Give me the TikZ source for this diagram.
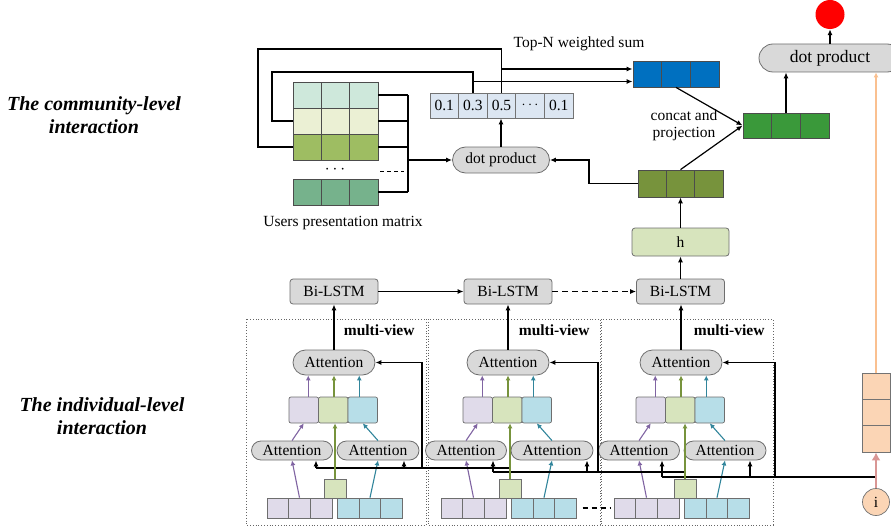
\documentclass[tikz,border=0pt]{standalone}
\usepackage{fontspec}
\setmainfont{Liberation Serif}
\usetikzlibrary{arrows.meta,shapes.misc,calc}
\definecolor{mrowA}{RGB}{206,232,219}
\definecolor{mrowB}{RGB}{235,240,212}
\definecolor{mrowC}{RGB}{158,189,98}
\definecolor{mrowD}{RGB}{118,178,140}
\definecolor{wfill}{RGB}{220,230,242}
\definecolor{vblue}{RGB}{0,112,192}
\definecolor{vgreen}{RGB}{58,153,58}
\definecolor{volive}{RGB}{119,147,60}
\definecolor{hgreen}{RGB}{215,228,189}
\definecolor{lav}{RGB}{224,219,234}
\definecolor{lblue}{RGB}{183,222,232}
\definecolor{orangef}{RGB}{251,213,181}
\definecolor{pinkc}{RGB}{217,150,148}
\definecolor{orangel}{RGB}{250,192,144}
\definecolor{purpc}{RGB}{128,100,162}
\definecolor{greenc}{RGB}{119,147,60}
\definecolor{tealc}{RGB}{49,133,155}
\definecolor{gfill}{RGB}{217,217,217}
\definecolor{gline}{RGB}{110,110,110}
\begin{document}
\begin{tikzpicture}[x=1pt,y=-1pt,
  txt/.style={font=\fontsize{15.5}{17}\selectfont},
  pill/.style={rounded rectangle, draw=gline, fill=gfill, inner sep=0pt, txt, line width=0.8pt},
  boxr/.style={rectangle, rounded corners=3pt, draw=gline, fill=gfill, inner sep=0pt, txt, line width=0.8pt},
  cell/.style={rectangle, draw=black!70, inner sep=0pt, line width=0.8pt},
  rcell/.style={rectangle, rounded corners=2pt, draw=gline, inner sep=0pt, line width=0.7pt, minimum width=29.5pt, minimum height=26pt},
  scell/.style={rectangle, draw=gline, inner sep=0pt, line width=0.7pt, minimum width=21.67pt, minimum height=20pt},
  ln/.style={line width=1.2pt},
  arr/.style={-{Latex[length=6pt,width=5pt]}, line width=1.2pt},
  parr/.style={-{Latex[length=5pt,width=5pt]}, line width=1.1pt, draw=purpc},
  garr/.style={-{Latex[length=5pt,width=5pt]}, line width=1.1pt, draw=greenc},
  tarr/.style={-{Latex[length=5pt,width=5pt]}, line width=1.1pt, draw=tealc},
  frame/.style={draw=black!60, line width=0.7pt, dash pattern=on 0.8pt off 2pt},
  lbl/.style={font={\fontsize{20}{23}\selectfont\bfseries\itshape}, align=center},
  mv/.style={font={\fontsize{15.5}{17}\selectfont\bfseries}, anchor=east}
]
\useasboundingbox (0,0) rectangle (891,532);

% ---------- left labels ----------
\node[lbl] (comm) at (94,115) {The community-level\\interaction};
\node[lbl] (indiv) at (102,416) {The individual-level\\interaction};

% ---------- users presentation matrix ----------
\foreach \r/\y/\c in {1/95/mrowA, 2/121/mrowB, 3/147/mrowC, 4/192/mrowD}
  \foreach \k/\x in {1/307.17, 2/335.5, 3/363.83}
    \node[cell, fill=\c, minimum width=28.33pt, minimum height=26pt] (m\r\k) at (\x,\y) {};
\node[font=\fontsize{17}{17}\selectfont] (mdots) at (335,170) {$\cdots$};
\coordinate (dsa) at (380,171);
\coordinate (dsb) at (404,171);
\draw[line width=1pt, dash pattern=on 4pt off 3pt] (dsa) -- (dsb);
\node[txt] (umat) at (343,223) {Users presentation matrix};

% ---------- community dot product and weights ----------
\node[pill, minimum width=97pt, minimum height=26pt] (dp1) at (501,160) {dot product};
\foreach \k/\x/\t in {1/444.3/0.1, 2/472.9/0.3, 3/501.5/0.5, 4/530.1/{$\cdots$}, 5/558.7/0.1}
  \node[cell, draw=black!55, fill=wfill, minimum width=28.6pt, minimum height=25pt, txt] (w\k) at (\x,105.5) {\t};

\coordinate (bus) at (408,160);
\foreach \r in {1,2,3,4}
  \draw[ln] (m\r3.east) -- (m\r3.east -| bus);
\draw[ln] (m13.east -| bus) -- (m43.east -| bus);
\draw[arr] (bus) -- (dp1.west);
\draw[arr] (dp1.north) -- (dp1.north |- w3.south);

% loops to the weights
\coordinate (la) at (258,49);
\coordinate (lb) at (272,72);
\draw[ln] (m31.west) -| (la) -| (w3.north);
\draw[ln] (m21.west) -| (lb) -| (w2.north);

% ---------- Top-N weighted sum ----------
\node[txt] (topn) at (579,44) {Top-N weighted sum};
\foreach \k/\x in {1/647.33, 2/676, 3/704.67}
  \node[cell, fill=vblue, minimum width=28.67pt, minimum height=26pt] (bl\k) at (\x,74) {};
\coordinate (brA) at (501.5,69);
\coordinate (brB) at (472.9,81.5);
\draw[arr] (brA) -- (brA -| bl1.west);
\draw[arr] (brB) -- (brB -| bl1.west);

% ---------- concat / projection ----------
\foreach \k/\x in {1/757.33, 2/786, 3/814.67}
  \node[cell, fill=vgreen, minimum width=28.67pt, minimum height=25pt] (gr\k) at (\x,125.5) {};
\node[txt, align=center] (cp) at (684,125) {concat and\\projection};

\foreach \k/\x in {1/652.17, 2/680.5, 3/708.83}
  \node[cell, fill=volive, minimum width=28.33pt, minimum height=27pt] (ol\k) at (\x,183.5) {};
\draw[arr] (bl2.south) -- (gr1.west);
\draw[arr] (ol2.north) -- (gr1.west);
\coordinate (oc) at (589,160);
\draw[arr] (ol1.west) -| (oc) -- (dp1.east);

% ---------- final dot product ----------
\node[pill, minimum width=142pt, minimum height=28pt, font=\fontsize{17.5}{19}\selectfont] (dp2) at (830,58) {dot product};
\node[circle, fill=red, minimum size=29pt, inner sep=0pt] (red) at (830,14.5) {};
\draw[arr] (dp2.north) -- (red.south);
\draw[arr] (gr2.north) -- (gr2.north |- dp2.south);

% ---------- h ----------
\node[boxr, fill=hgreen, minimum width=97pt, minimum height=28pt] (h) at (680.5,242) {h};
\draw[arr] (h.north) -- (ol2.south);

% ---------- Bi-LSTM ----------
\node[boxr, minimum width=88pt, minimum height=25pt] (bi1) at (334,291.5) {Bi-LSTM};
\node[boxr, minimum width=88pt, minimum height=25pt] (bi2) at (508,291.5) {Bi-LSTM};
\node[boxr, minimum width=88pt, minimum height=25pt] (bi3) at (680.5,291.5) {Bi-LSTM};
\draw[arr] (bi1.east) -- (bi2.west);
\draw[arr, dash pattern=on 6pt off 4pt] (bi2.east) -- (bi3.west);
\draw[arr] (bi3.north) -- (h.south);

% ---------- frames ----------
\draw[frame] (246,319) rectangle (426,525);
\draw[frame] (428,319) rectangle (600,525);
\draw[frame] (601,319) rectangle (773,525);
\node[mv] (mv1) at (418,330) {multi-view};
\node[mv] (mv2) at (593,330) {multi-view};
\node[mv] (mv3) at (768,330) {multi-view};

% ---------- individual-level blocks ----------
\foreach \b/\o/\gx in {1/0/335, 2/174/510, 3/347/685} {
  \node[pill, minimum width=82pt, minimum height=25pt] (ta\b) at (334+\o,362.5) {Attention};
  \node[rcell, fill=lav] (c\b1) at (303.75+\o,410) {};
  \node[rcell, fill=hgreen] (c\b2) at (333.25+\o,410) {};
  \node[rcell, fill=lblue] (c\b3) at (362.75+\o,410) {};
  \node[pill, minimum width=81pt, minimum height=19pt] (la\b1) at (292+\o,450.5) {Attention};
  \node[pill, minimum width=82pt, minimum height=19pt] (la\b2) at (378+\o,450.5) {Attention};
  \node[rectangle, draw=gline, fill=hgreen, inner sep=0pt, line width=0.7pt, minimum width=22pt, minimum height=19pt] (gs\b) at (\gx,488.5) {};
  \node[scell, fill=lav] (p\b1) at (277.83+\o,508) {};
  \node[scell, fill=lav] (p\b2) at (299.5+\o,508) {};
  \node[scell, fill=lav] (p\b3) at (321.17+\o,508) {};
  \node[scell, fill=lblue] (q\b1) at (348.67+\o,508) {};
  \node[scell, fill=lblue] (q\b2) at (370+\o,508) {};
  \node[scell, fill=lblue] (q\b3) at (391.33+\o,508) {};
  \coordinate (pa\b) at ($(c\b1.north)+(4.5,0)$);
  \coordinate (ga\b) at ($(c\b2.north)+(0.75,0)$);
  \coordinate (tb\b) at ($(c\b3.north)+(-3.5,0)$);
  \draw[parr] (pa\b) -- (pa\b |- ta\b.south);
  \draw[garr] (ga\b) -- (ga\b |- ta\b.south);
  \draw[tarr] (tb\b) -- (tb\b |- ta\b.south);
  \draw[parr] (la\b1.north) -- (c\b1.south);
  \draw[tarr] (la\b2.north) -- (c\b3.south);
  \draw[parr] (p\b2.north) -- (la\b1.south);
  \draw[tarr] (q\b2.north) -- (la\b2.south);
  \draw[arr] (ta\b.north) -- (ta\b.north |- bi\b.south);
}

% ---------- item i ----------
\foreach \k/\y in {1/386.17, 2/412.5, 3/438.83}
  \node[cell, draw=black!55, fill=orangef, minimum width=28pt, minimum height=26.33pt] (or\k) at (876,\y) {};
\node[circle, draw=black!55, fill=orangef, minimum size=27pt, inner sep=0pt, txt, line width=0.7pt] (inode) at (876,502) {i};
\draw[-{Latex[length=5pt,width=5pt]}, line width=1.1pt, draw=orangel] (or1.north) -- (or1.north |- dp2.south);

% black item lines feeding the attentions
\coordinate (s1) at (316,468);  \coordinate (u1) at (404,468); \coordinate (v1) at (422,468);
\coordinate (s2) at (493,472);  \coordinate (u2) at (587,472); \coordinate (v2) at (598,472);
\coordinate (s3) at (662,477);  \coordinate (u3) at (750,477); \coordinate (v3) at (775,477);
\draw[ln] (s1) -- (gs2 |- s1);
\draw[ln] (s2) -- (gs3 |- s2);
\draw[ln] (s3) -- (inode |- s3);
\foreach \b in {1,2,3} {
  \draw[arr] (s\b) -- (s\b |- la\b1.south);
  \draw[arr] (u\b) -- (u\b |- la\b2.south);
  \draw[arr] (v\b) |- (ta\b.east);
  \draw[garr] (gs\b.north) -- (gs\b.north |- c\b2.south);
}
\draw[-{Latex[length=8pt,width=9pt]}, line width=1.6pt, draw=pinkc] (inode.north) -- (or3.south);

% dashed link between blocks 2 and 3
\draw[line width=1.2pt, dash pattern=on 5pt off 4pt, shorten <=6pt, shorten >=4pt] (q23.east) -- (p31.west);
\end{tikzpicture}
\end{document}
